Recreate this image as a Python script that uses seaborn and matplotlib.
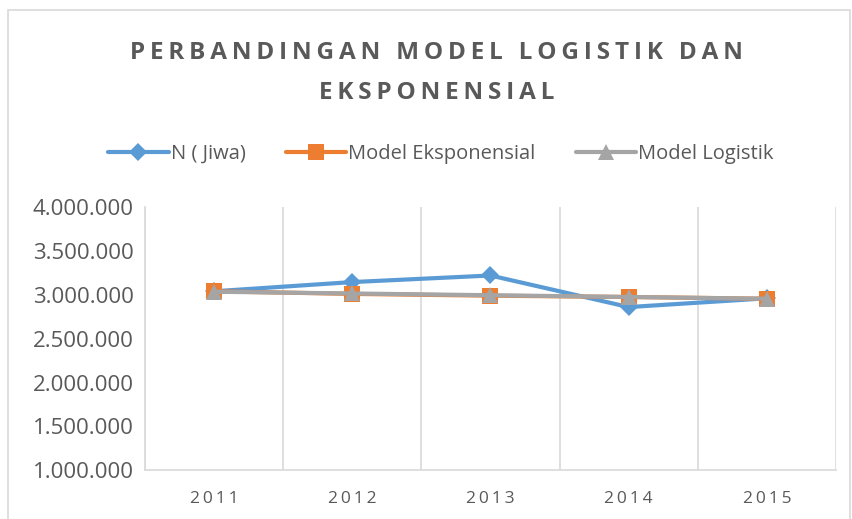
import numpy as np
import pandas as pd
import matplotlib
matplotlib.use("Agg")
import matplotlib.pyplot as plt
import seaborn as sns
from matplotlib.ticker import FuncFormatter, FixedLocator

# data
years = ["2011", "2012", "2013", "2014", "2015"]
n_jiwa = [3040000, 3145000, 3220000, 2860000, 2960000]
model_eksponensial = [3040000, 3010000, 2990000, 2975000, 2955000]
model_logistik = [3035000, 3015000, 2995000, 2975000, 2955000]

series_names = ["N ( Jiwa)", "Model Eksponensial", "Model Logistik"]
colors = ["#5B9BD5", "#ED7D31", "#A5A5A5"]
markers = ["D", "s", "^"]
msizes = [9, 11, 12]

df = pd.DataFrame({
    "Tahun": years * 3,
    "pos": list(range(len(years))) * 3,
    "Nilai": n_jiwa + model_eksponensial + model_logistik,
    "Seri": [s for s in series_names for _ in years],
})

sns.set_theme(style="white")
plt.rcParams["font.family"] = ["Open Sans", "DejaVu Sans"]

fig = plt.figure(figsize=(8.53, 5.19), dpi=100)
ax = fig.add_axes([0.170, 0.094, 0.810, 0.507])

for name, c, m, ms in zip(series_names, colors, markers, msizes):
    sub = df[df["Seri"] == name]
    sns.lineplot(data=sub, x="pos", y="Nilai", ax=ax, color=c, linewidth=3.0,
                 marker=m, markersize=ms, markeredgewidth=0, label=name)

ax.set_xlim(-0.5, len(years) - 0.5)
ax.set_ylim(1000000, 4000000)
ax.set_yticks(np.arange(1000000, 4000001, 500000))
ax.yaxis.set_major_formatter(FuncFormatter(lambda v, p: f"{int(v):,}".replace(",", ".")))
ax.set_xticks(range(len(years)))
ax.set_xticklabels(["\u2009".join(y) for y in years])
ax.xaxis.set_minor_locator(FixedLocator(np.arange(-0.5, len(years), 1.0)))
ax.grid(which="minor", axis="x", color="#D9D9D9", linewidth=1.2)
ax.grid(which="major", axis="both", visible=False)
ax.set_xlabel("")
ax.set_ylabel("")

for side in ["top", "right"]:
    ax.spines[side].set_visible(False)
for side in ["left", "bottom"]:
    ax.spines[side].set_color("#D9D9D9")
    ax.spines[side].set_linewidth(1.2)

ax.tick_params(axis="y", labelsize=16, labelcolor="#595959", length=0, pad=8)
ax.tick_params(axis="x", labelsize=12.5, labelcolor="#595959", length=0, pad=15)
ax.tick_params(which="minor", length=0)

handles, labels = ax.get_legend_handles_labels()
ax.legend(handles, labels, loc="center", bbox_to_anchor=(0.517, 0.703), bbox_transform=fig.transFigure,
          ncol=3, frameon=False, fontsize=14.5, handlelength=3.0, columnspacing=2.0,
          handletextpad=0.1, labelcolor="#595959")

title_lines = ["PERBANDINGAN MODEL LOGISTIK DAN", "EKSPONENSIAL"]
for txt, yy in zip(title_lines, [0.898, 0.821]):
    fig.text(0.512, yy, "\u2009".join(txt), ha="center", va="center",
             fontsize=17.5, fontweight="bold", color="#595959")

# chart border
fig.add_artist(plt.Rectangle((0.009, -0.02), 0.988, 1.0, transform=fig.transFigure,
                             fill=False, edgecolor="#D9D9D9", linewidth=1.2))

fig.savefig("out.png", dpi=100)
